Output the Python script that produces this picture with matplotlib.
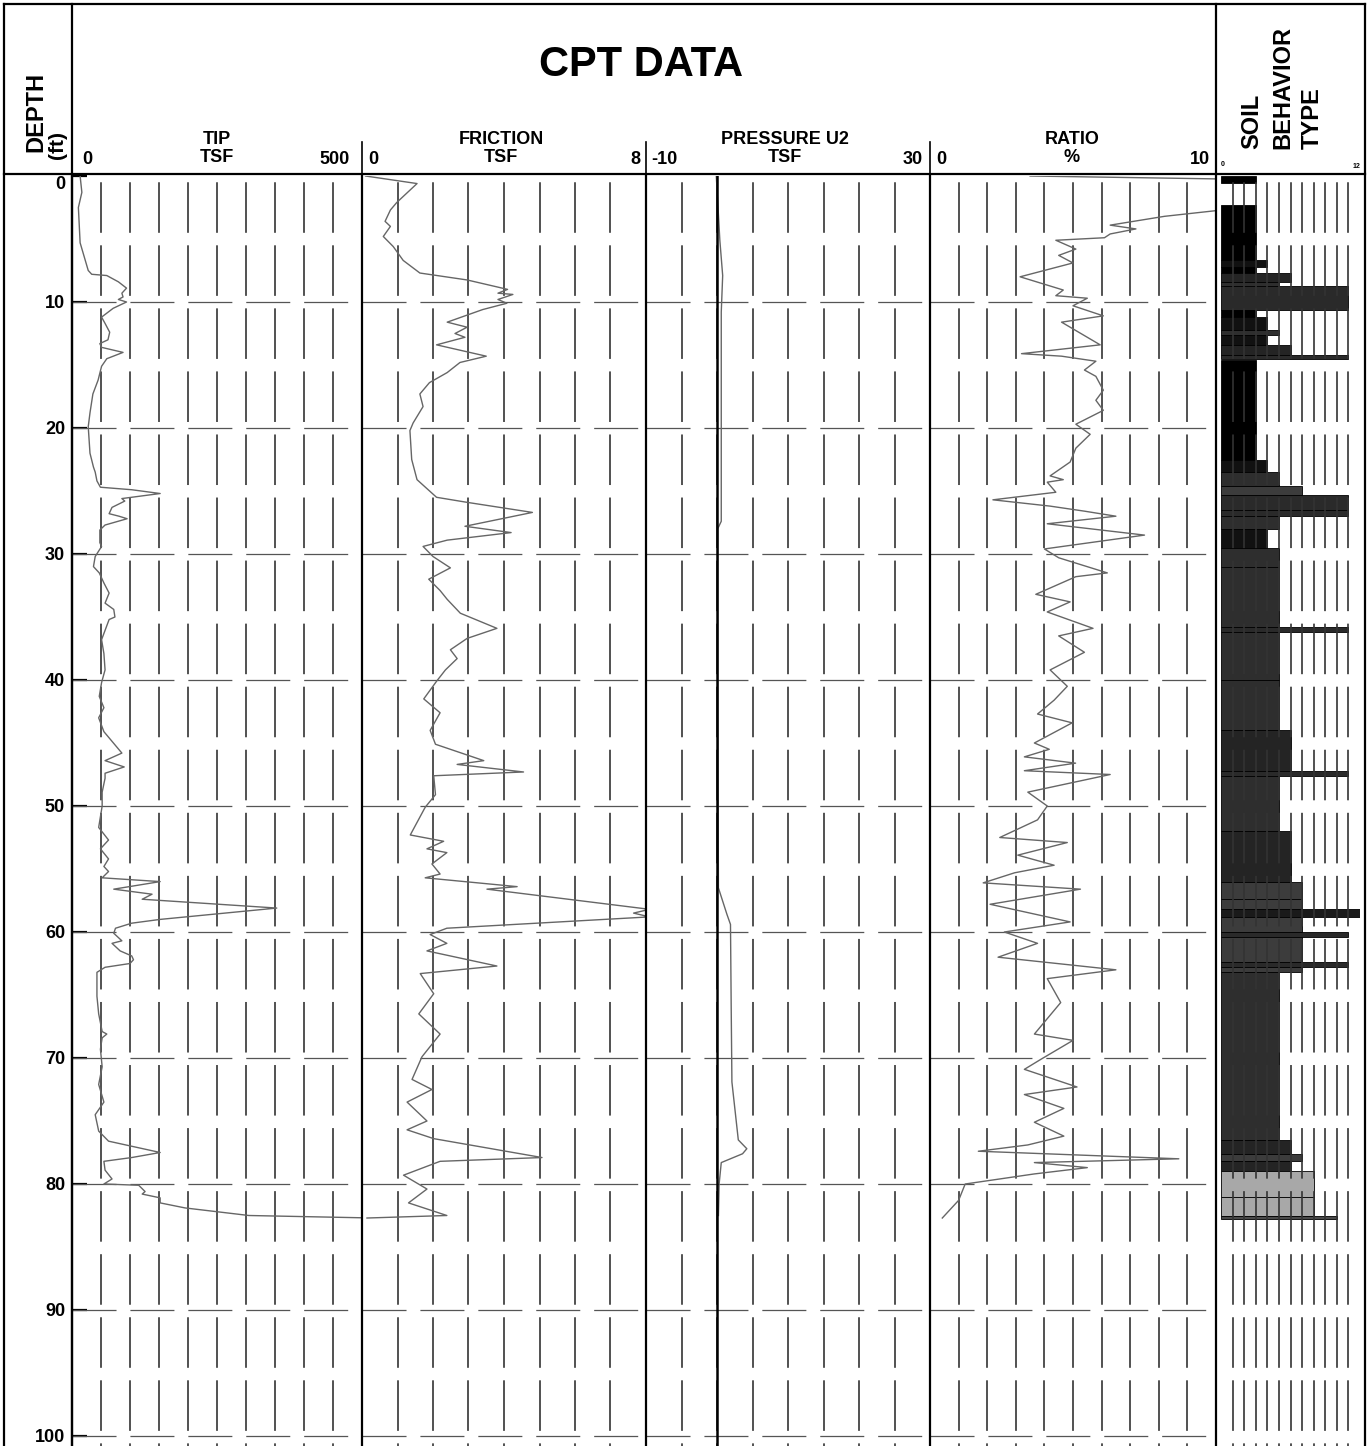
import matplotlib
matplotlib.use("Agg")
import matplotlib.pyplot as plt
from matplotlib.lines import Line2D

plt.rcParams['font.family'] = ['Liberation Sans Narrow', 'Liberation Sans', 'DejaVu Sans']
plt.rcParams['lines.scale_dashes'] = False

W, H = 1371, 1446

# ---- data (depth in ft) ----
tip_depth = [0.0, 1.3, 2.5, 5.3, 7.5, 7.8, 7.9, 8.4, 8.9, 9.3, 9.6, 9.8, 10.0, 10.5, 11.2, 11.7,
             12.4, 13.0, 13.3, 13.6, 14.0, 14.5, 15.1, 16.2, 17.3, 18.8, 19.9, 22.0, 23.1, 23.5,
             24.2, 24.7, 24.9, 25.2, 25.6, 25.8, 26.3, 26.8, 27.0, 27.2, 27.7, 28.1, 29.1, 29.4,
             30.2, 31.0, 31.5, 32.3, 33.1, 33.9, 34.4, 35.0, 35.2, 36.8, 37.9, 39.2, 40.2, 41.3,
             42.2, 43.0, 44.1, 45.8, 46.4, 46.9, 47.4, 47.8, 48.9, 50.0, 51.7, 52.7, 53.4, 54.2,
             54.8, 55.2, 55.7, 56.0, 56.6, 57.0, 57.4, 58.1, 59.0, 59.3, 59.7, 60.1, 60.7, 60.9,
             61.5, 61.9, 62.2, 62.5, 62.8, 63.2, 65.1, 66.5, 67.9, 68.1, 68.4, 69.3, 70.7, 72.1,
             73.5, 74.5, 75.8, 76.6, 77.5, 77.9, 78.2, 78.9, 79.6, 80.0, 80.1, 80.6, 80.8, 81.1,
             81.5, 81.9, 82.5, 82.7]
tip_tsf = [14, 17, 11, 14, 28, 34, 60, 80, 94, 86, 88, 80, 94, 71, 51, 57,
           65, 62, 48, 51, 88, 60, 51, 45, 36, 31, 28, 31, 37, 40,
           43, 49, 103, 152, 86, 91, 69, 64, 81, 95, 57, 48, 48, 51,
           40, 37, 47, 55, 64, 57, 72, 74, 64, 51, 55, 57, 51, 47,
           55, 46, 55, 86, 57, 90, 57, 57, 52, 52, 46, 63, 49, 63,
           55, 63, 52, 152, 72, 138, 121, 353, 152, 103, 75, 72, 86, 69,
           83, 103, 106, 100, 57, 43, 43, 46, 52, 60, 52, 49, 52, 46,
           55, 40, 46, 63, 152, 103, 55, 57, 69, 55, 115, 126, 121, 152,
           152, 195, 305, 520]

fric_depth = [0.0, 0.6, 2.1, 2.7, 3.6, 4.0, 4.8, 5.6, 6.7, 7.7, 8.25, 8.8, 9.0, 9.3, 9.4, 9.8,
              10.1, 10.6, 11.6, 12.0, 12.5, 12.8, 13.4, 14.3, 14.8, 15.6, 16.4, 17.3, 18.3, 19.6,
              20.2, 22.5, 24.1, 25.5, 25.9, 26.7, 27.8, 28.3, 28.9, 29.4, 30.2, 31.1, 32.0, 32.9,
              33.6, 34.7, 35.9, 36.7, 37.6, 38.3, 39.2, 40.1, 41.5, 42.6, 44.0, 45.1, 46.4, 46.7,
              47.3, 47.6, 49.1, 50.1, 52.3, 52.8, 53.4, 53.7, 54.6, 55.4, 55.7, 56.4, 56.6, 58.2,
              58.5, 58.8, 59.7, 60.2, 60.9, 61.5, 62.7, 63.3, 64.9, 66.5, 68.1, 69.9, 71.7, 72.5,
              73.5, 75.0, 75.7, 76.4, 77.9, 78.2, 79.3, 80.4, 81.5, 82.5, 82.7]
fric_tsf = [0.1, 1.55, 0.98, 0.8, 0.65, 0.8, 0.6, 0.88, 1.16, 1.63, 2.96, 3.8, 4.1, 3.83, 4.25, 3.83,
            4.08, 3.4, 2.4, 2.96, 2.62, 2.9, 2.1, 3.5, 2.76, 2.4, 1.9, 1.63, 1.72, 1.44,
            1.35, 1.4, 1.55, 2.1, 2.96, 4.8, 2.9, 4.2, 2.4, 1.72, 2.0, 2.49, 1.88, 2.2,
            2.4, 2.77, 3.8, 2.96, 2.49, 2.68, 2.35, 2.1, 1.74, 2.2, 1.92, 2.07, 3.43, 2.68,
            4.55, 2.02, 2.07, 1.78, 1.36, 2.3, 1.83, 2.39, 1.97, 2.2, 1.78, 4.37, 3.52, 8.1,
            7.65, 8.1, 2.39, 1.92, 2.39, 1.83, 3.8, 1.64, 2.02, 1.6, 2.2, 1.69, 1.41, 1.97,
            1.27, 1.83, 1.27, 2.02, 5.07, 2.2, 1.17, 1.83, 1.31, 2.39, 0.14]

u2_depth = [0.0, 5.1, 7.9, 10.8, 27.4, 28.0, 40.0, 56.5, 58.6, 59.4, 66.0, 71.9, 76.5, 77.2,
            77.6, 78.3, 80.0, 82.5]
u2_tsf = [-0.1, 0.4, 0.8, 0.6, 0.6, 0.1, 0.1, 0.2, 1.4, 1.9, 2.0, 2.1, 3.0, 4.2,
          3.6, 0.6, 0.3, 0.2]

ratio_depth = [0.0, 0.3, 2.3, 2.7, 3.2, 3.9, 4.2, 4.6, 4.9, 5.1, 5.8, 6.3, 6.9, 8.0, 9.05, 9.5,
               9.7, 10.3, 11.1, 11.6, 13.4, 14.1, 14.3, 14.7, 15.4, 15.9, 17.0, 17.8, 18.6, 19.7,
               20.5, 21.6, 22.7, 23.8, 24.1, 24.3, 25.1, 25.7, 26.2, 26.6, 27.0, 27.6, 28.5, 29.6,
               30.3, 31.5, 31.8, 33.2, 33.8, 34.6, 35.9, 36.5, 37.8, 39.2, 40.5, 41.6, 42.7, 43.4,
               45.0, 45.5, 46.1, 46.6, 47.2, 47.5, 48.9, 50.0, 51.1, 52.5, 52.9, 53.9, 54.7, 55.3,
               56.1, 56.6, 57.8, 59.2, 60.0, 60.9, 62.0, 63.0, 63.7, 65.6, 68.1, 68.6, 70.1, 70.9,
               72.3, 72.9, 74.0, 75.1, 76.2, 76.9, 77.4, 78.0, 78.3, 78.7, 79.2, 80.0, 81.3, 82.7]
ratio_pct = [3.5, 12.0, 12.0, 10.2, 8.2, 6.3, 7.2, 6.3, 6.1, 4.4, 5.1, 4.5, 5.0, 3.15, 4.66, 4.4,
             5.5, 5.0, 6.06, 4.6, 5.95, 3.2, 4.6, 5.8, 5.4, 5.8, 6.06, 5.8, 6.06, 5.1,
             5.6, 5.1, 4.9, 4.2, 4.66, 4.1, 4.4, 2.2, 4.2, 5.4, 6.5, 4.1, 7.5, 4.0,
             4.5, 6.2, 5.1, 3.7, 4.9, 4.1, 5.7, 4.5, 5.4, 4.2, 4.8, 4.34, 3.76, 4.97,
             3.65, 4.17, 3.3, 5.09, 3.3, 6.3, 3.42, 4.1, 3.76, 2.44, 4.8, 3.07, 4.34, 2.96,
             1.86, 5.26, 2.1, 4.9, 2.6, 3.76, 2.38, 6.5, 4.1, 4.57, 3.65, 5.0, 3.88, 3.3,
             5.14, 3.3, 4.68, 3.65, 4.68, 3.42, 1.69, 8.7, 3.65, 5.5, 3.65, 1.23, 1.0, 0.43]

# soil behaviour type: layer top, layer bottom, zone number
sbt_top = [0.0, 2.3, 6.7, 7.2, 7.7, 8.4, 8.7, 10.6, 11.2, 12.2, 12.6, 13.4, 14.2, 14.6, 22.5,
           23.5, 24.6, 25.3, 26.5, 27.0, 28.0, 29.5, 31.0, 35.8, 36.2, 40.0, 44.0, 47.2, 47.6,
           52.0, 56.0, 57.4, 58.2, 58.8, 60.0, 60.4, 62.4, 62.8, 63.2, 76.5, 77.6, 78.2, 79.0,
           81.0, 82.5]
sbt_bot = [0.55, 6.7, 7.2, 7.7, 8.4, 8.7, 10.6, 11.2, 12.2, 12.6, 13.4, 14.2, 14.5, 22.5, 23.5,
           24.6, 25.3, 26.5, 27.0, 28.0, 29.5, 31.0, 35.8, 36.2, 40.0, 44.0, 47.2, 47.6, 52.0,
           56.0, 57.4, 58.2, 58.8, 60.0, 60.4, 62.4, 62.8, 63.2, 76.5, 77.6, 78.2, 79.0, 81.0,
           82.5, 82.8]
sbt_zone = [3, 3, 4, 3, 6, 5, 11, 3, 4, 5, 4, 6, 11, 3, 4,
            5, 7, 11, 11, 5, 4, 5, 5, 11, 5, 5, 6, 11, 5,
            6, 7, 7, 12, 7, 11, 7, 11, 7, 5, 6, 7, 6, 8,
            8, 10]

depth_ticks = [0, 10, 20, 30, 40, 50, 60, 70, 80, 90, 100]

zone_colors = {3: 'black', 4: '#111111', 5: '#2e2e2e', 6: '#242424', 7: '#3c3c3c',
               8: '#a8a8a8', 9: '#bbbbbb', 10: '#4a4a4a', 11: '#2a2a2a', 12: '#1a1a1a'}

fig = plt.figure(figsize=(W / 100, H / 100), dpi=100)

TOP = 176
DMAX = (H - TOP) / 12.6


def add_axes(x0, x1):
    return fig.add_axes([x0 / W, 0, (x1 - x0) / W, 1 - TOP / H])


def frame_line(x0, y0, x1, y1, lw=1.6):
    fig.add_artist(Line2D([x0 / W, x1 / W], [1 - y0 / H, 1 - y1 / H], color='black', lw=lw))


vdash = (40.9, (36.4, 9.0))
hdash = (0, (31.7, 10.0))
trace_kw = dict(color='#666666', lw=1.0)

panels = [
    (72, 362, 0, 500, 10, tip_depth, tip_tsf),
    (362, 646, 0, 8, 8, fric_depth, fric_tsf),
    (646, 930, -10, 30, 8, u2_depth, u2_tsf),
    (930, 1216, 0, 10, 10, ratio_depth, ratio_pct),
]
axes = []
for x0, x1, lo, hi, ndiv, dep, val in panels:
    ax = add_axes(x0, x1)
    ax.set_xlim(lo, hi)
    ax.set_ylim(DMAX, 0)
    step = (hi - lo) / ndiv
    xs = [lo + step * i for i in range(1, ndiv)]
    ax.vlines(xs, 0, DMAX, colors='#333333', lw=1.2, linestyles=[vdash])
    for d in depth_ticks[1:]:
        ax.axhline(d, color='#555555', lw=0.9, ls=hdash)
    ax.plot(val, dep, **trace_kw)
    ax.set_xticks([])
    ax.set_yticks([])
    for s in ax.spines.values():
        s.set_visible(False)
    ax.spines['left'].set_visible(True)
    ax.spines['left'].set_linewidth(1.6)
    axes.append(ax)

ax_tip, ax_fric, ax_u2, ax_ratio = axes

# zero line of the pore pressure track
ax_u2.axvline(0, color='black', lw=1.8)

# depth labels and ticks
ax_tip.set_yticks(depth_ticks)
ax_tip.set_yticklabels([str(d) for d in depth_ticks], fontsize=13, fontweight='bold')
ax_tip.tick_params(axis='y', direction='in', length=11, width=1.6, pad=5)
ax_tip.get_yticklabels()[0].set_verticalalignment('top')

# soil behaviour type column
ax_sbt = add_axes(1221, 1360)
ax_sbt.set_xlim(0, 12)
ax_sbt.set_ylim(DMAX, 0)
ax_sbt.vlines(range(1, 12), 0, DMAX, colors='#333333', lw=1.2, linestyles=[vdash])
heights = [b - t for t, b in zip(sbt_top, sbt_bot)]
ax_sbt.barh(sbt_top, sbt_zone, height=heights, align='edge',
            color=[zone_colors[z] for z in sbt_zone], edgecolor='black', linewidth=0.6)
ax_sbt.set_xticks([])
ax_sbt.set_yticks([])
for s in ax_sbt.spines.values():
    s.set_visible(False)

# frame
frame_line(4, 4, 1365, 4)
frame_line(4, 4, 4, H)
frame_line(1365, 4, 1365, H)
frame_line(72, 4, 72, H)
frame_line(1216, 4, 1216, H)
frame_line(4, 174, 1365, 174)
for xs in (362, 646, 930):
    frame_line(xs, 142, xs, 174, lw=1.2)

# header text
def ftext(x, y, s, **kw):
    fig.text(x / W, 1 - y / H, s, fontweight='bold', **kw)

ftext(641, 65, 'CPT DATA', fontsize=30, ha='center', va='center', family=['Liberation Sans', 'DejaVu Sans'])
ftext(36, 112, 'DEPTH', fontsize=17, rotation=90, ha='center', va='center', family=['Liberation Sans', 'DejaVu Sans'])
ftext(58, 145, '(ft)', fontsize=15, rotation=90, ha='center', va='center', family=['Liberation Sans', 'DejaVu Sans'])

heads = [(217, 'TIP', 'TSF', '0', '500', 82, 350),
         (501, 'FRICTION', 'TSF', '0', '8', 368, 640),
         (785, 'PRESSURE U2', 'TSF', '-10', '30', 651, 923),
         (1072, 'RATIO', '%', '0', '10', 936, 1210)]
for xc, t1, t2, l, r, xl, xr in heads:
    ftext(xc, 139, t1, fontsize=13, ha='center', va='center')
    ftext(xc, 158, t2, fontsize=13, ha='center', va='center')
    ftext(xl, 159, l, fontsize=13, ha='left', va='center')
    ftext(xr, 159, r, fontsize=13, ha='right', va='center')

for xc, s in ((1252, 'SOIL'), (1283, 'BEHAVIOR'), (1312, 'TYPE')):
    ftext(xc, 149, s, fontsize=17, rotation=90, ha='center', va='bottom', family=['Liberation Sans', 'DejaVu Sans'])
ftext(1221, 164, '0', fontsize=5, ha='left', va='center')
ftext(1360, 166, '12', fontsize=5, ha='right', va='center')

fig.savefig('out.png', dpi=100)
